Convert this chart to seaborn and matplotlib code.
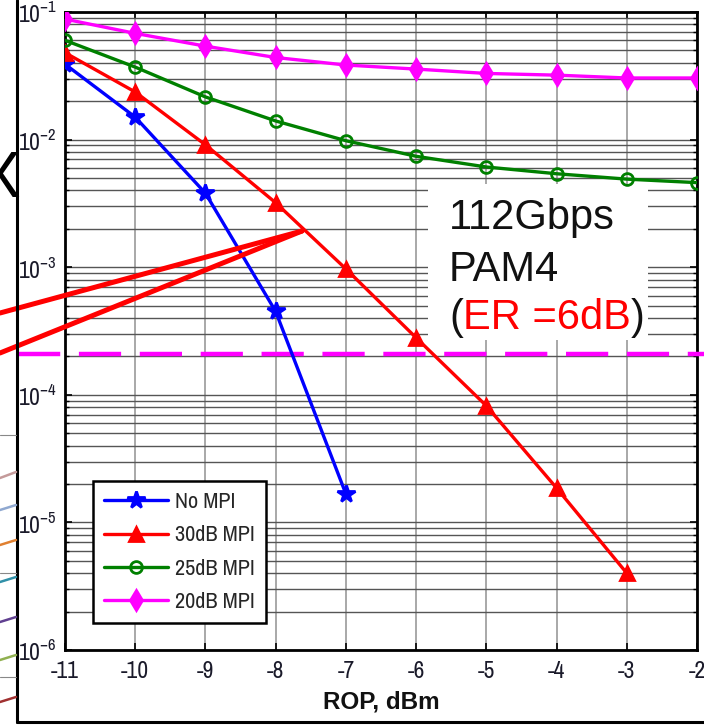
import numpy as np
import pandas as pd
import matplotlib
matplotlib.use("Agg")
import matplotlib.pyplot as plt
import matplotlib.transforms as mtransforms
from matplotlib.lines import Line2D
from matplotlib.patches import Rectangle
from matplotlib.ticker import LogLocator, NullFormatter, FixedLocator
import seaborn as sns

# ---------------- data ----------------
rop_short = [-11, -10, -9, -8, -7]
ber_no_mpi = [3.9e-2, 1.5e-2, 3.8e-3, 4.5e-4, 1.67e-5]
rop_30 = [-11, -10, -9, -8, -7, -6, -5, -4, -3]
ber_30db = [4.8e-2, 2.36e-2, 9.1e-3, 3.2e-3, 9.7e-4, 2.8e-4, 8.2e-5, 1.86e-5, 4.0e-6]
rop_full = [-11, -10, -9, -8, -7, -6, -5, -4, -3, -2]
ber_25db = [6.0e-2, 3.7e-2, 2.16e-2, 1.4e-2, 9.8e-3, 7.4e-3, 6.1e-3, 5.4e-3, 4.9e-3, 4.6e-3]
ber_20db = [8.8e-2, 6.8e-2, 5.4e-2, 4.4e-2, 3.84e-2, 3.57e-2, 3.3e-2, 3.2e-2, 3.04e-2, 3.04e-2]
series_labels = ["No MPI", "30dB MPI", "25dB MPI", "20dB MPI"]
fec_threshold = 2.1e-4
x_ticks = [-11, -10, -9, -8, -7, -6, -5, -4, -3, -2]
box_lines = ["112Gbps", "PAM4", "ER =6dB"]

NARROW = ["Archivo Narrow", "Liberation Sans", "DejaVu Sans"]

sns.set_theme(style="white")
plt.rcParams["font.family"] = ["Liberation Sans", "DejaVu Sans"]
plt.rcParams["axes.unicode_minus"] = False
plt.rcParams["mathtext.fontset"] = "custom"
plt.rcParams["mathtext.rm"] = "Archivo Narrow"
plt.rcParams["mathtext.default"] = "rm"

W, H = 704, 725
fig = plt.figure(figsize=(W / 100, H / 100), dpi=100)
fig.patch.set_facecolor("white")

def fx(x):
    return x / W

def fy(y):
    return 1 - y / H

ax = fig.add_axes([fx(65), fy(650), fx(697) - fx(65), fy(12) - fy(650)])
ax.set_facecolor("white")

styles = [
    (rop_short, ber_no_mpi, "#0000ff", "*", 13, "#0000ff"),
    (rop_30, ber_30db, "#ff0000", "^", 9.5, "#ff0000"),
    (rop_full, ber_25db, "#008000", "o", 8.5, "none"),
    (rop_full, ber_20db, "#ff00ff", "d", 10, "#ff00ff"),
]
for (xs, ys, c, m, ms, fc), lab in zip(styles, series_labels):
    sns.lineplot(x=xs, y=ys, ax=ax, color=c, marker=m, markersize=ms,
                 markerfacecolor=fc, markeredgecolor=c, markeredgewidth=2.0,
                 linewidth=2.4, label=lab, zorder=5)

ax.set_yscale("log")
ax.set_ylim(1e-6, 1e-1)
ax.set_xlim(-11, -2)
ax.xaxis.set_major_locator(FixedLocator(x_ticks))
ax.yaxis.set_major_locator(LogLocator(base=10, numticks=10))
ax.yaxis.set_minor_locator(LogLocator(base=10, subs=np.arange(2, 10), numticks=100))
ax.yaxis.set_minor_formatter(NullFormatter())

ax.grid(which="both", axis="y", color="#555555", linewidth=1.0, zorder=0)
ax.grid(which="major", axis="x", color="#9a9a9a", linewidth=1.2, zorder=0)
ax.set_axisbelow(True)

for s in ax.spines.values():
    s.set_color("black")
    s.set_linewidth(2.0)

ax.tick_params(axis="both", which="both", direction="in", top=True, right=True,
               bottom=True, left=True, color="black")
ax.tick_params(axis="both", which="major", length=5, width=1.2)
ax.tick_params(axis="y", which="minor", length=3, width=1.0)
ax.tick_params(axis="x", labelsize=17, pad=8, labelcolor="#1a1a2a")
ax.tick_params(axis="y", labelsize=17, pad=6, labelcolor="#1a1a2a")
for lab in ax.get_xticklabels() + ax.get_yticklabels():
    lab.set_fontfamily(NARROW)

ax.set_xlabel("ROP, dBm", fontsize=17.5, fontweight="bold", labelpad=6, color="#111111")
ax.set_ylabel("")

# legend
handles, labels = ax.get_legend_handles_labels()
leg = ax.legend(handles, labels, loc="lower left", bbox_to_anchor=(0.044, 0.042),
                prop={"family": NARROW, "size": 16}, frameon=True, fancybox=False,
                edgecolor="black", framealpha=1, handlelength=2.9, handletextpad=0.3,
                labelspacing=0.6, borderpad=0.5, borderaxespad=0)
leg.get_frame().set_linewidth(1.8)
leg.set_zorder(10)

# FEC threshold dashed line (extends across the slide crop)
blend = mtransforms.blended_transform_factory(fig.transFigure, ax.transData)
ax.plot([fx(18), 1.0], [fec_threshold, fec_threshold], transform=blend,
        color="#ff00ff", linewidth=3.2, dashes=(9.5, 4.2), clip_on=False, zorder=4)

# white annotation box
rect = Rectangle((fx(428), fy(340)), fx(648) - fx(428), fy(184) - fy(340),
                 transform=fig.transFigure, facecolor="white", edgecolor="none", zorder=3)
ax.add_patch(rect)
rect.set_clip_on(False)

fs_box = 30
fig.text(fx(449), fy(218), box_lines[0], fontsize=fs_box, color="#111111",
         ha="left", va="center", zorder=6)
fig.text(fx(449), fy(270), box_lines[1], fontsize=fs_box, color="#111111",
         ha="left", va="center", zorder=6)
t1 = fig.text(fx(449), fy(318), "(", fontsize=fs_box, color="#111111",
              ha="left", va="center", zorder=6)
t2 = ax.annotate(box_lines[2], xy=(1, 0), xycoords=t1, xytext=(0, 0), textcoords="offset points",
                 fontsize=fs_box, color="#ff0000", ha="left", va="bottom", zorder=6,
                 annotation_clip=False)
t3 = ax.annotate(")", xy=(1, 0), xycoords=t2, fontsize=fs_box, color="#111111",
                 ha="left", va="bottom", zorder=6, annotation_clip=False)

# ---- slide decorations around the cropped chart ----
deco = []
# red callout lines
deco.append(Line2D([fx(0), fx(302)], [fy(313), fy(231)], color="#ff0000", linewidth=3.6))
deco.append(Line2D([fx(0), fx(302)], [fy(353), fy(231)], color="#ff0000", linewidth=3.6))
# slide frame
deco.append(Line2D([fx(17), fx(17)], [fy(0), fy(722)], color="black", linewidth=2.2))
deco.append(Line2D([fx(17), fx(704)], [fy(722), fy(722)], color="black", linewidth=2.2))
# fragments of neighbouring chart
for yy in (435, 573, 677):
    deco.append(Line2D([fx(0), fx(16)], [fy(yy), fy(yy)], color="#888888", linewidth=0.8))
for (y0, y1, c) in [(478, 472, "#c49a9a"), (510, 505, "#8fa8d0"), (545, 540, "#e08030"),
                    (582, 577, "#3090a8"), (622, 617, "#604090"), (660, 655, "#90b050"),
                    (702, 697, "#a03030")]:
    deco.append(Line2D([fx(0), fx(16)], [fy(y0), fy(y1)], color=c, linewidth=1.8))
for l in deco:
    l.set_transform(fig.transFigure)
    l.set_zorder(20)
    fig.add_artist(l)

fig.text(fx(-22), fy(180), "X", fontsize=46, color="black", ha="left", va="center")

fig.savefig("out.png", dpi=100)
